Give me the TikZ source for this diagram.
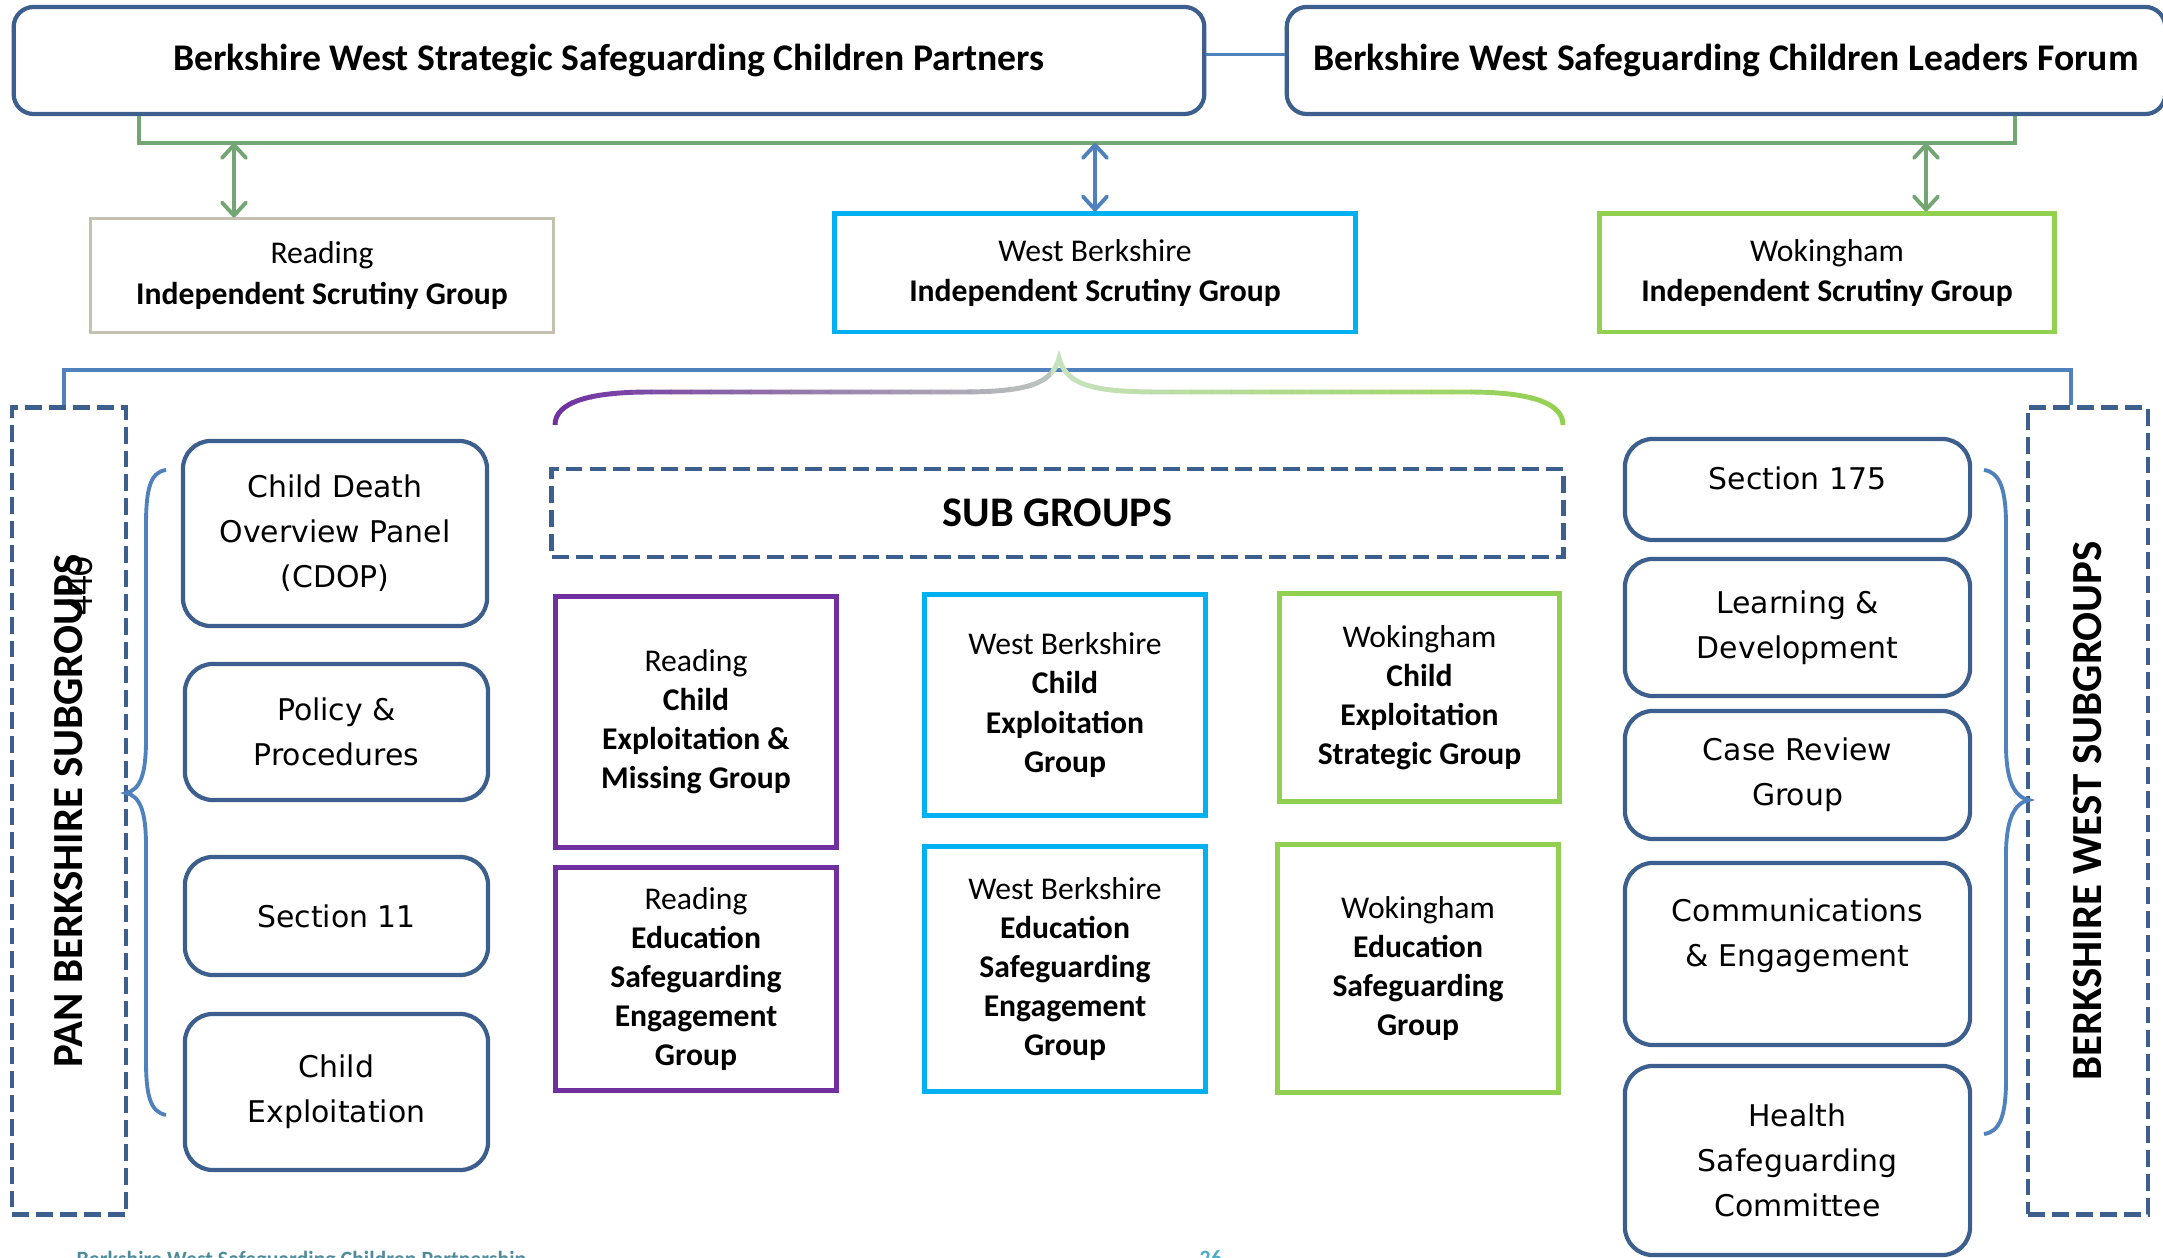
\documentclass[tikz,border=0pt]{standalone}
\usepackage{fontspec}
\setmainfont{Carlito}
\newfontfamily\panelfont{DejaVu Sans}
\usetikzlibrary{positioning, arrows.meta}

\definecolor{bwnavy}{HTML}{3C5F8E}
\definecolor{bwblue}{HTML}{4F81BD}
\definecolor{bwgreen}{HTML}{74A673}
\definecolor{bwcyan}{HTML}{00B0F0}
\definecolor{bwlime}{HTML}{92D050}
\definecolor{bwpurple}{HTML}{7030A0}
\definecolor{bwtan}{HTML}{C4C1B0}
\definecolor{bwmist}{HTML}{BCC8BC}
\definecolor{bwmint}{HTML}{C6E2BC}
\definecolor{bwteal}{HTML}{4F8C9B}
\definecolor{bwsky}{HTML}{4BACC6}

% brace over the local sub groups, in picture units
\def\subbrace{(555,425) .. controls (555,402) and (590,392) .. (650,392) -- (960,392)
  .. controls (1025,392) and (1052,385) .. (1059,358)
  .. controls (1066,385) and (1093,392) .. (1158,392) -- (1468,392)
  .. controls (1528,392) and (1563,402) .. (1563,425)}

\begin{document}
\begin{tikzpicture}[
		x=0.01cm, y=-0.01cm,
		>={Straight Barb[length=1.3mm, width=2.4mm, round]},
		sized/.style 2 args={minimum width=#1cm, minimum height=#2cm},
		title/.style={draw=bwnavy, line width=1.2pt, rounded corners=0.2cm, inner sep=0, font=\fontsize{10.7}{12}\selectfont\bfseries},
		isg/.style={line width=1.4pt, inner sep=0, align=center, font=\fontsize{9}{11.4}\selectfont},
		local/.style={line width=1.4pt, inner sep=0, align=center, font=\fontsize{9}{11.1}\selectfont},
		panel/.style={draw=bwnavy, line width=1.2pt, rounded corners=0.28cm, inner sep=0, align=center, font=\panelfont\fontsize{8.5}{12.8}\selectfont},
		frame/.style={draw=bwnavy, line width=1.3pt, dash pattern=on 4.8pt off 2pt, inner sep=0},
		sidetag/.style={font=\fontsize{12.2}{14}\selectfont\bfseries, inner sep=0},
		link/.style={bwblue, line width=1.4pt},
		tie/.style={bwgreen, line width=1.4pt},
		brace/.style={bwblue, line width=1.1pt}
		]
		\useasboundingbox (0,0) rectangle (2163,1258);
		\clip (0,0) rectangle (2163,1258);
		
		% --- 1. Strategic level ---
		\node[title, sized={11.90}{1.07}] (partners) at (609,60.5) {Berkshire West Strategic Safeguarding Children Partners};
		\node[title, sized={8.78}{1.07}] (forum) at (1726,60.5) {Berkshire West Safeguarding Children Leaders Forum};
		\draw[link, line width=1.1pt] ([yshift=0.06cm]partners.east) -- ([yshift=0.06cm]forum.west);
		
		% --- 2. Independent scrutiny ---
		\node[isg, draw=bwtan, line width=0.85pt, sized={4.62}{1.13}] (isgR) at (322,275.5) {Reading\\\textbf{Independent Scrutiny Group}};
		\node[isg, draw=bwcyan, sized={5.20}{1.18}] (isgW) at (1095,273) {West Berkshire\\\textbf{Independent Scrutiny Group}};
		\node[isg, draw=bwlime, sized={4.54}{1.18}] (isgK) at (1827,273) {Wokingham\\\textbf{Independent Scrutiny Group}};
		
		\coordinate (tieL) at (139,143);
		\coordinate (tieR) at (2015,143);
		\coordinate (upR) at (234,143);
		\coordinate (upK) at (1926,143);
		\draw[tie] (partners.south -| tieL) -- (tieL) -- (tieR) -- (forum.south -| tieR);
		\draw[<->, tie, line width=1.1pt] (upR) -- (upR |- isgR.north);
		\draw[<->, link, line width=1.1pt] (isgW.north |- tieL) -- (isgW.north);
		\draw[<->, tie, line width=1.1pt] (upK) -- (upK |- isgK.north);
		
		% --- 3. Pan Berkshire and Berkshire West frames ---
		\node[frame, sized={1.14}{8.06}] (pan) at (69,811) {};
		\node[sidetag, rotate=90] (pantag) at (pan.center) {PAN BERKSHIRE SUBGROUPS};
		\node[rotate=90, font=\fontsize{11}{11}\selectfont, inner sep=0] (stray) at (80,586) {440};
		\node[frame, sized={1.20}{8.06}] (bw) at (2088,811) {};
		\node[sidetag, rotate=90] (bwtag) at (bw.center) {BERKSHIRE WEST SUBGROUPS};
		
		\coordinate (barL) at (64,370);
		\coordinate (barR) at (2071,370);
		\draw[link] (barL |- pan.north) -- (barL) -- (barR) -- (barR |- bw.north);
		
		% shaded brace, drawn strip by strip
		\foreach \i in {0,...,51} {
			\pgfmathsetmacro\xa{551+20*\i}
			\pgfmathsetmacro\xm{\xa+10}
			\pgfmathsetmacro\pl{max(0,min(100,(1059-\xm)/5.04))}
			\pgfmathsetmacro\pr{max(0,min(100,(\xm-1059)/5.04))}
			\ifdim\xm pt<1059pt \def\tint{bwpurple!\pl!bwmist}\else\def\tint{bwlime!\pr!bwmint}\fi
			\begin{scope}
				\clip (\xa,340) rectangle (\xa+21,440);
				\draw[line width=1.4pt, color=\tint] \subbrace;
			\end{scope}
		}
		
		% --- 4. Sub groups ---
		\node[frame, sized={10.11}{0.88}, font=\fontsize{12}{14}\selectfont\bfseries] (subgroups) at (1057.5,513) {SUB GROUPS};
		
		\node[local, draw=bwpurple, sized={2.80}{2.50}] (rCE) at (696,722) {Reading\\\textbf{Child}\\\textbf{Exploitation \&}\\\textbf{Missing Group}};
		\node[local, draw=bwpurple, sized={2.80}{2.22}] (rES) at (696,979) {Reading\\\textbf{Education}\\\textbf{Safeguarding}\\\textbf{Engagement}\\\textbf{Group}};
		\node[local, draw=bwcyan, sized={2.80}{2.20}] (wCE) at (1065,705) {West Berkshire\\\textbf{Child}\\\textbf{Exploitation}\\\textbf{Group}};
		\node[local, draw=bwcyan, sized={2.80}{2.44}] (wES) at (1065,969) {West Berkshire\\\textbf{Education}\\\textbf{Safeguarding}\\\textbf{Engagement}\\\textbf{Group}};
		\node[local, draw=bwlime, sized={2.79}{2.07}] (kCE) at (1419.5,697.5) {Wokingham\\\textbf{Child}\\\textbf{Exploitation}\\\textbf{Strategic Group}};
		\node[local, draw=bwlime, sized={2.80}{2.47}] (kES) at (1418,968.5) {Wokingham\\\textbf{Education}\\\textbf{Safeguarding}\\\textbf{Group}};
		
		% --- 5. Pan Berkshire panels ---
		\node[panel, sized={3.04}{1.85}] (cdop) at (335,533.5) {Child Death\\Overview Panel\\(CDOP)};
		\node[panel, sized={3.03}{1.36}] (policy) at (336.5,732) {Policy \&\\Procedures};
		\node[panel, sized={3.03}{1.18}] (s11) at (336.5,916) {Section 11};
		\node[panel, sized={3.03}{1.56}] (ce) at (336.5,1092) {Child\\Exploitation};
		\draw[brace] (166,470) .. controls (150,472) and (146,490) .. (146,525) -- (146,740)
			.. controls (146,775) and (140,790) .. (126,793) .. controls (140,796) and (146,811) .. (146,846)
			-- (146,1060) .. controls (146,1095) and (150,1112) .. (166,1115);
		
		% --- 6. Berkshire West panels ---
		\node[panel, sized={3.45}{1.01}] (s175) at (1797.5,489.5) {Section 175\rule[-6.5pt]{0pt}{1pt}};
		\node[panel, sized={3.45}{1.37}] (ld) at (1797.5,627.5) {Learning \&\\Development};
		\node[panel, sized={3.45}{1.28}] (crg) at (1797.5,775) {Case Review\\Group};
		\node[panel, sized={3.45}{1.82}] (comms) at (1797.5,954) {Communications\\\& Engagement\\[-4.5pt]\strut};
		\node[panel, sized={3.45}{1.89}] (hsc) at (1797.5,1160.5) {Health\\Safeguarding\\Committee};
		\draw[brace] (1984,470) .. controls (2000,472) and (2006,490) .. (2006,525) -- (2006,745)
			.. controls (2006,780) and (2014,797) .. (2029,800) .. controls (2014,803) and (2006,820) .. (2006,855)
			-- (2006,1080) .. controls (2006,1115) and (2000,1132) .. (1984,1134);
		
		% page footer
		\node[anchor=north west, inner sep=0, text=bwteal, font=\fontsize{6.2}{7}\selectfont\bfseries] (footer) at (76,1250) {Berkshire West Safeguarding Children Partnership};
		\node[anchor=north west, inner sep=0, text=bwsky, font=\fontsize{6.2}{7}\selectfont\bfseries] (pageno) at (1199,1250) {26};
	\end{tikzpicture}
\end{document}
